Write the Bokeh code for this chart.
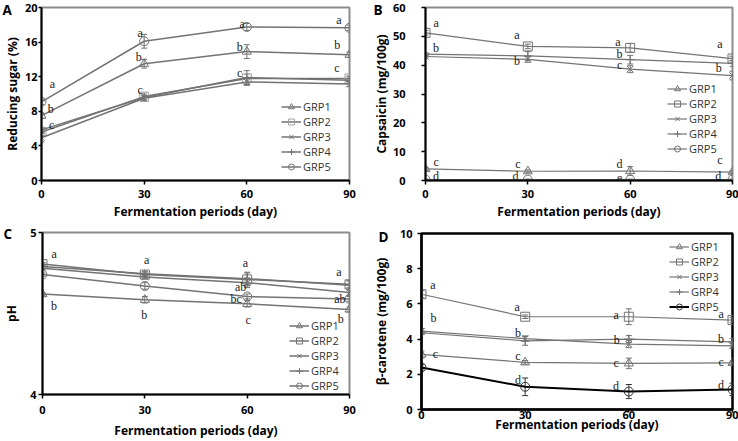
from bokeh.plotting import figure
from bokeh.layouts import column, row
from bokeh.models import (Range1d, FixedTicker, Whisker, TeeHead, ColumnDataSource,
                          Legend, LegendItem, Title)
from bokeh.embed import file_html
from bokeh.resources import INLINE

# ---------------- data ----------------
days = [0, 30, 60, 90]
groups = ["GRP1", "GRP2", "GRP3", "GRP4", "GRP5"]
markers = ["triangle", "square", "x", "cross", "circle"]

# A: Reducing sugar (%)
sugar_grp1 = [7.5, 13.5, 14.9, 14.55]
sugar_grp2 = [5.6, 9.7, 11.8, 11.8]
sugar_grp3 = [4.95, 9.5, 11.4, 11.15]
sugar_grp4 = [5.85, 9.6, 11.9, 11.6]
sugar_grp5 = [9.1, 16.1, 17.75, 17.65]
sugar_err1 = [0.3, 0.5, 0.8, 0.3]
sugar_err2 = [0.4, 0.4, 0.5, 0.3]
sugar_err3 = [0.5, 0.3, 0.4, 0.3]
sugar_err4 = [0.3, 0.3, 0.8, 0.4]
sugar_err5 = [0.3, 0.8, 0.4, 0.3]

# B: Capsaicin (mg/100g)
caps_grp1 = [4.0, 3.2, 3.3, 2.9]
caps_grp2 = [51.2, 46.5, 46.0, 42.3]
caps_grp3 = [43.0, 42.0, 38.6, 36.4]
caps_grp4 = [43.8, 43.2, 41.9, 40.6]
caps_grp5 = [0.3, 0.3, 0.3, 0.3]
caps_err1 = [0.5, 0.5, 1.5, 0.5]
caps_err2 = [0.8, 0.8, 1.5, 0.8]
caps_err3 = [0.5, 1.0, 1.2, 1.5]
caps_err4 = [0.5, 1.5, 1.5, 1.0]
caps_err5 = [0.2, 0.2, 0.2, 0.2]

# C: pH
ph_grp1 = [4.62, 4.585, 4.56, 4.525]
ph_grp2 = [4.805, 4.74, 4.71, 4.68]
ph_grp3 = [4.78, 4.725, 4.69, 4.63]
ph_grp4 = [4.79, 4.745, 4.715, 4.675]
ph_grp5 = [4.74, 4.67, 4.605, 4.59]
ph_err1 = [0.01, 0.02, 0.02, 0.015]
ph_err2 = [0.01, 0.015, 0.04, 0.02]
ph_err3 = [0.01, 0.01, 0.03, 0.02]
ph_err4 = [0.01, 0.015, 0.04, 0.03]
ph_err5 = [0.01, 0.02, 0.015, 0.015]

# D: beta-carotene (mg/100g)
carot_grp1 = [3.13, 2.68, 2.62, 2.65]
carot_grp2 = [6.55, 5.27, 5.27, 5.08]
carot_grp3 = [4.45, 4.03, 3.71, 3.62]
carot_grp4 = [4.36, 3.9, 4.0, 3.84]
carot_grp5 = [2.39, 1.29, 1.02, 1.14]
carot_err1 = [0.2, 0.1, 0.3, 0.1]
carot_err2 = [0.2, 0.1, 0.45, 0.15]
carot_err3 = [0.15, 0.15, 0.2, 0.15]
carot_err4 = [0.1, 0.25, 0.2, 0.2]
carot_err5 = [0.15, 0.5, 0.4, 0.35]

# significance letters (day, value, letter)
sugar_letters_x = [3.2, 2.7, 3.0, 28.8, 28.4, 28.8, 58.6, 57.9, 57.9, 86.9, 86.4, 86.3]
sugar_letters_y = [11.1, 8.3, 6.4, 17.1, 14.3, 10.5, 18.1, 15.4, 12.4, 18.5, 15.7, 13.0]
sugar_letters = ["a", "b", "c", "a", "b", "c", "a", "b", "c", "a", "b", "c"]

caps_letters_x = [3.1, 3.1, 3.1, 3.1, 26.8, 26.8, 27.1, 26.4,
                  56.4, 56.9, 56.9, 56.9, 56.9, 86.3, 86.0, 86.3, 85.8]
caps_letters_y = [54.6, 45.9, 6.5, 1.7, 50.5, 41.4, 5.7, 1.7,
                  48.0, 44.0, 40.2, 5.7, 0.9, 47.4, 38.9, 7.1, 1.7]
caps_letters = ["a", "b", "c", "d", "a", "b", "c", "d",
                "a", "b", "c", "d", "e", "a", "b", "c", "d"]

ph_letters_x = [3.4, 3.4, 30.5, 29.8, 59.5, 58.1, 56.8, 60.3, 86.9, 87.2, 87.4]
ph_letters_y = [4.867, 4.545, 4.831, 4.49, 4.81, 4.663, 4.588, 4.459, 4.759, 4.592, 4.469]
ph_letters = ["a", "b", "a", "b", "a", "ab", "bc", "c", "a", "ab", "b"]

carot_letters_x = [3.3, 3.5, 4.0, 27.7, 27.9, 27.9, 27.9, 56.3, 56.5, 56.3, 56.3, 86.7, 86.7, 86.7, 86.7]
carot_letters_y = [7.06, 5.21, 3.18, 5.8, 4.36, 3.03, 1.7, 5.36, 3.94, 2.65, 1.33, 5.42, 4.03, 2.71, 1.42]
carot_letters = ["a", "b", "c", "a", "b", "c", "d", "a", "b", "c", "d", "a", "b", "c", "d"]

GRAY = "#737373"
FONT = "Open Sans"


def make_panel(width, height, borders, yrange, yticks, ylabel, series, errors,
               lx, ly, ltxt, tag, tag_pos, legend_loc, frame_color, axis_cfg,
               colors, widths, mcolors):
    left, right, top, bottom = borders
    p = figure(width=width, height=height, x_range=Range1d(0, 90),
               y_range=Range1d(*yrange), output_backend="svg", toolbar_location=None,
               min_border_left=left, min_border_right=right,
               min_border_top=top, min_border_bottom=bottom, frame_align=False)
    p.grid.visible = False
    p.outline_line_color = frame_color
    p.outline_line_width = 2
    p.background_fill_color = "white"
    p.border_fill_color = "white"

    items = []
    for i, g in enumerate(groups):
        src = ColumnDataSource(dict(x=days, y=series[i],
                                    up=[v + e for v, e in zip(series[i], errors[i])],
                                    lo=[v - e for v, e in zip(series[i], errors[i])]))
        lr = p.line("x", "y", source=src, line_color=colors[i], line_width=widths[i])
        sr = p.scatter("x", "y", source=src, marker=markers[i], size=9,
                       line_color=mcolors[i], fill_alpha=0, line_width=1)
        w = Whisker(source=src, base="x", upper="up", lower="lo",
                    line_color=mcolors[i], line_width=1,
                    upper_head=TeeHead(size=6, line_color=mcolors[i], line_width=1),
                    lower_head=TeeHead(size=6, line_color=mcolors[i], line_width=1))
        p.add_layout(w)
        items.append(LegendItem(label=g, renderers=[lr, sr]))

    p.text(x=lx, y=ly, text=ltxt, text_font=FONT, text_font_size="12px",
           text_align="center", text_baseline="middle", text_color="#1a1a1a")

    leg = Legend(items=items, location=legend_loc, padding=0, spacing=0,
                 label_height=15, glyph_height=15, glyph_width=20, label_standoff=2,
                 label_text_font=FONT, label_text_font_size="11px",
                 label_text_color="#333333", border_line_alpha=0,
                 background_fill_alpha=0, margin=0)
    p.add_layout(leg)

    tag_offset, tag_standoff = tag_pos
    p.add_layout(Title(text=tag, align="left", offset=tag_offset, standoff=tag_standoff,
                       vertical_align="bottom", text_font=FONT, text_font_size="13.5px",
                       text_font_style="bold", text_color="black"), "above")

    ytk_out, ytk_standoff, ylab_standoff, xtk_out, xtk_standoff, xlab_standoff = axis_cfg
    for ax in (p.xaxis[0], p.yaxis[0]):
        ax.axis_line_color = "black"
        ax.axis_line_width = 2
        ax.major_tick_line_color = "black"
        ax.major_tick_line_width = 1.5
        ax.major_tick_in = 0
        ax.minor_tick_line_color = None
        ax.major_label_text_font = FONT
        ax.major_label_text_font_style = "bold"
        ax.major_label_text_font_size = "11px"
        ax.major_label_text_color = "black"
        ax.axis_label_text_font = FONT
        ax.axis_label_text_font_style = "bold"
        ax.axis_label_text_font_size = "12px"
        ax.axis_label_text_color = "black"
    p.xaxis.ticker = FixedTicker(ticks=days)
    p.yaxis.ticker = FixedTicker(ticks=yticks)
    p.xaxis.axis_label = "Fermentation periods (day)"
    p.yaxis.axis_label = ylabel
    p.yaxis.major_tick_out = ytk_out
    p.yaxis.major_label_standoff = ytk_standoff
    p.yaxis.axis_label_standoff = ylab_standoff
    p.xaxis.major_tick_out = xtk_out
    p.xaxis.major_label_standoff = xtk_standoff
    p.xaxis.axis_label_standoff = xlab_standoff
    return p


gray5 = [GRAY] * 5
pA = make_panel(369, 224, (39, 20, 7, 44), (0, 20), [0, 4, 8, 12, 16, 20],
                "Reducing sugar (%)",
                [sugar_grp1, sugar_grp2, sugar_grp3, sugar_grp4, sugar_grp5],
                [sugar_err1, sugar_err2, sugar_err3, sugar_err4, sugar_err5],
                sugar_letters_x, sugar_letters_y, sugar_letters,
                "A", (-39, -23), (240, 6), "#8c8c8c", (3, 1, 1, 4, 5, 2),
                gray5, [1.5] * 5, [GRAY, "#a0a0a0", GRAY, GRAY, GRAY])
pB = make_panel(369, 224, (51, 6, 7, 44), (0, 60), [0, 10, 20, 30, 40, 50, 60],
                "Capsaicin (mg/100g)",
                [caps_grp1, caps_grp2, caps_grp3, caps_grp4, caps_grp5],
                [caps_err1, caps_err2, caps_err3, caps_err4, caps_err5],
                caps_letters_x, caps_letters_y, caps_letters,
                "B", (-52, -23), (242, 24), "#8c8c8c", (4, 16, 0, 4, 5, 2),
                gray5, [1.2] * 5, gray5)
pC = make_panel(369, 217, (39, 20, 8, 46), (4, 5), [4, 5], "pH",
                [ph_grp1, ph_grp2, ph_grp3, ph_grp4, ph_grp5],
                [ph_err1, ph_err2, ph_err3, ph_err4, ph_err5],
                ph_letters_x, ph_letters_y, ph_letters,
                "C", (-39, -21), (247, 1), "#8c8c8c", (4, 2, 7, 4, 7, 5),
                gray5, [1.5] * 5, gray5)
pD = make_panel(369, 217, (52, 6, 9, 32), (0, 10), [0, 2, 4, 6, 8, 10],
                "β-carotene (mg/100g)",
                [carot_grp1, carot_grp2, carot_grp3, carot_grp4, carot_grp5],
                [carot_err1, carot_err2, carot_err3, carot_err4, carot_err5],
                carot_letters_x, carot_letters_y, carot_letters,
                "D", (-43, -25), (248, 95), "black", (4, 5, 7, 3, -2, -6),
                [GRAY, GRAY, GRAY, GRAY, "black"], [1.2, 1.2, 1.2, 1.2, 2],
                [GRAY, GRAY, GRAY, GRAY, "#333333"])
pD.outline_line_width = 2.5

layout = column(row(pA, pB), row(pC, pD))
open("out.html", "w").write(file_html(layout, INLINE))
